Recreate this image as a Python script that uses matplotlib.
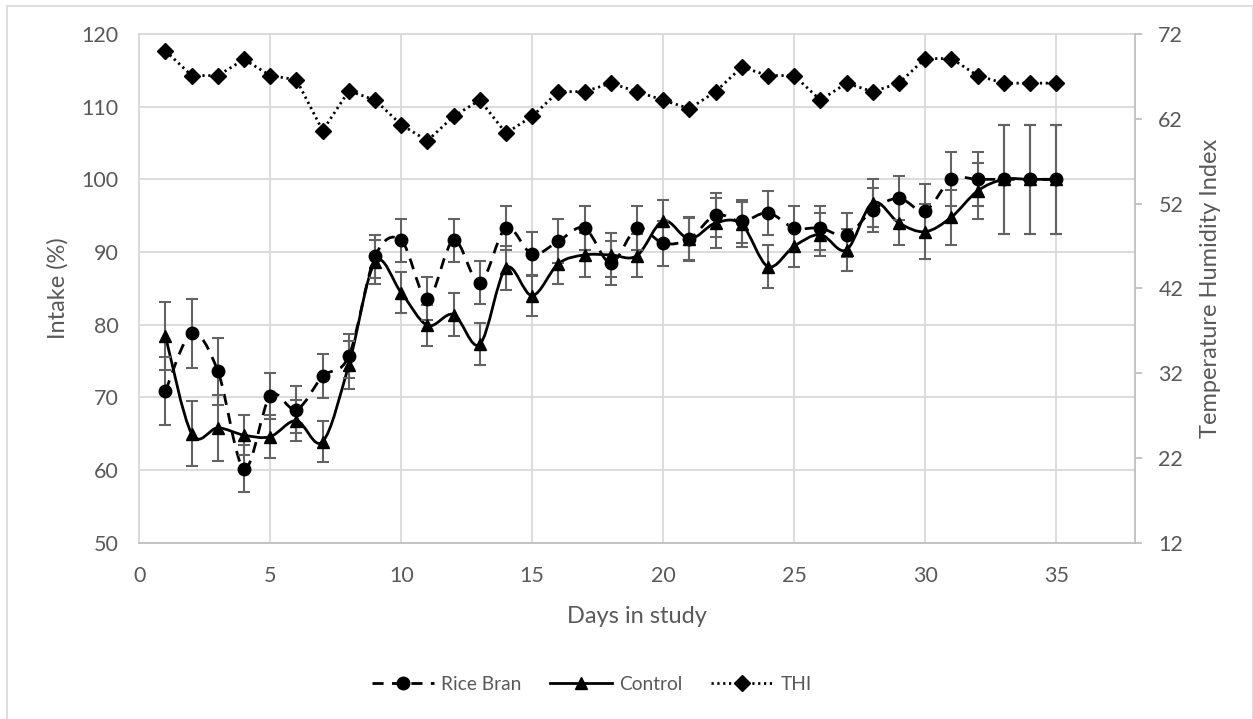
import matplotlib
matplotlib.use('Agg')
import matplotlib.pyplot as plt
import numpy as np
from matplotlib.path import Path
from matplotlib.patches import PathPatch, Rectangle
from matplotlib.lines import Line2D

days = list(range(1, 36))

rice_bran = [70.9, 78.8, 73.6, 60.2, 70.2, 68.3, 72.9, 75.7, 89.4, 91.6,
             83.6, 91.6, 85.8, 93.3, 89.7, 91.5, 93.3, 88.5, 93.3, 91.2,
             91.8, 95.1, 94.2, 95.4, 93.3, 93.3, 92.3, 95.8, 97.4, 95.7,
             100.0, 100.0, 100.0, 100.0, 100.0]
rice_bran_err = [4.7, 4.7, 4.6, 3.2, 3.2, 3.2, 3.0, 3.0, 3.0, 3.0,
                 3.0, 3.0, 3.0, 3.0, 3.0, 3.0, 3.0, 3.0, 3.0, 3.1,
                 3.0, 3.0, 3.0, 3.0, 3.0, 3.0, 3.0, 3.0, 3.0, 3.7,
                 3.7, 3.7, 7.5, 7.5, 7.5]

control = [78.4, 65.0, 65.8, 64.8, 64.6, 66.8, 63.9, 74.5, 88.6, 84.4,
           79.9, 81.4, 77.3, 87.8, 84.0, 88.4, 89.6, 89.6, 89.5, 94.3,
           91.8, 94.0, 93.8, 88.0, 90.8, 92.4, 90.3, 96.8, 94.0, 92.8,
           94.8, 98.4, 100.0, 100.0, 100.0]
control_err = [4.7, 4.5, 4.5, 2.8, 3.0, 2.8, 2.8, 3.3, 3.0, 2.8,
               2.8, 2.9, 2.9, 3.0, 2.8, 2.8, 3.0, 3.0, 3.0, 2.8,
               2.9, 3.4, 3.1, 2.9, 2.9, 3.0, 2.9, 3.3, 3.0, 3.8,
               3.8, 3.9, 7.5, 7.5, 7.5]

thi = [70.0, 67.1, 67.1, 69.0, 67.1, 66.6, 60.6, 65.3, 64.2, 61.3,
       59.4, 62.3, 64.2, 60.3, 62.3, 65.2, 65.2, 66.2, 65.2, 64.2,
       63.2, 65.2, 68.1, 67.1, 67.1, 64.2, 66.2, 65.2, 66.2, 69.1,
       69.1, 67.1, 66.2, 66.2, 66.2]

TXT = '#595959'
GRID = '#d9d9d9'
plt.rcParams['font.family'] = ['Lato', 'DejaVu Sans']


def smooth_path(x, y):
    # excel style smoothed line: bezier segments through every point
    p = np.column_stack([x, y]).astype(float)
    n = len(p)
    verts = [p[0]]
    codes = [Path.MOVETO]
    for i in range(n - 1):
        p0 = p[i - 1] if i > 0 else p[i]
        p3 = p[i + 2] if i + 2 < n else p[i + 1]
        c1 = p[i] + (p[i + 1] - p0) / 6
        c2 = p[i + 1] - (p3 - p[i]) / 6
        verts += [c1, c2, p[i + 1]]
        codes += [Path.CURVE4] * 3
    return Path(verts, codes)


fig = plt.figure(figsize=(12.53, 7.19), dpi=100)
fig.patches.append(Rectangle((6.5 / 1253, -0.01), (1253 - 6.5) / 1253, 1 - 5.5 / 719 + 0.01,
                             transform=fig.transFigure, fill=False, ec=GRID, lw=1.2))
ax = fig.add_axes([139.3 / 1253, 1 - 542.7 / 719, (1134.7 - 139.3) / 1253, (542.7 - 34) / 719])
ax2 = ax.twinx()

# intake series
ax.add_patch(PathPatch(smooth_path(days, rice_bran), fill=False, lw=2, color='black',
                       linestyle=(0, (4, 3)), zorder=2))
ax.add_patch(PathPatch(smooth_path(days, control), fill=False, lw=2, color='black', zorder=2))
ax.errorbar(days, rice_bran, yerr=rice_bran_err, fmt='none', ecolor='#636363',
            elinewidth=1.5, capsize=4.5, capthick=1.5, zorder=3)
ax.errorbar(days, control, yerr=control_err, fmt='none', ecolor='#636363',
            elinewidth=1.5, capsize=4.5, capthick=1.5, zorder=3)
ax.plot(days, rice_bran, 'o', color='black', ms=9, zorder=4)
ax.plot(days, control, '^', color='black', ms=9, zorder=4)

# THI on right axis
ax2.plot(days, thi, color='black', lw=2, linestyle=(0, (0.8, 1.3)), marker='D', ms=8)

ax.set_xlim(0, 38)
ax.set_ylim(50, 120)
ax.set_xticks(range(0, 40, 5))
ax.set_yticks(range(50, 121, 10))
ax2.set_ylim(12, 72)
ax2.set_yticks(range(12, 73, 10))

ax.grid(True, color=GRID, lw=1.3)
ax.set_axisbelow(True)
for s in ['top', 'left']:
    ax.spines[s].set_color(GRID)
    ax2.spines[s].set_visible(False)
ax.spines['bottom'].set_color('#bfbfbf')
ax.spines['right'].set_visible(False)
ax2.spines['bottom'].set_visible(False)
ax2.spines['right'].set_color('#bfbfbf')
for s in ax.spines.values():
    s.set_linewidth(1.3)
ax2.spines['right'].set_linewidth(1.3)

ax.tick_params(axis='x', length=0, pad=17, labelsize=15.5, labelcolor=TXT)
ax.tick_params(axis='y', length=0, pad=15, labelsize=15.5, labelcolor=TXT)
ax2.tick_params(axis='y', length=5, width=1.3, color='#bfbfbf', pad=12, labelsize=15.5, labelcolor=TXT)

ax.set_xlabel('Days in study', fontsize=17, color=TXT, labelpad=14)
ax.set_ylabel('Intake (%)', fontsize=17, color=TXT, labelpad=9)
ax2.set_ylabel('Temperature Humidity Index', fontsize=17, color=TXT, labelpad=12)

handles = [
    Line2D([], [], color='black', lw=2, linestyle=(0, (4, 3)), marker='o', ms=9),
    Line2D([], [], color='black', lw=2, marker='^', ms=9),
    Line2D([], [], color='black', lw=2, linestyle=(0, (0.8, 1.3)), marker='D', ms=8),
]
fig.legend(handles, ['Rice Bran', 'Control', 'THI'], loc='center',
           bbox_to_anchor=(592 / 1253, 1 - 684 / 719), ncol=3, frameon=False,
           fontsize=13.8, labelcolor=TXT, handlelength=3.2, columnspacing=1.5, handletextpad=0.4)

fig.savefig('out.png', dpi=100)
